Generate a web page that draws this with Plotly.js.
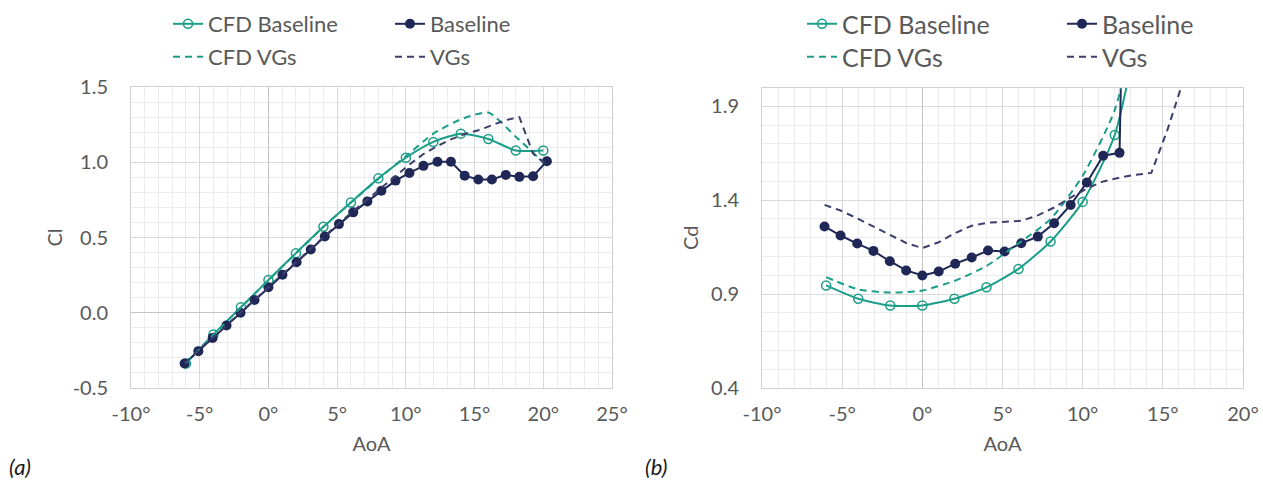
<!DOCTYPE html>
<html><head><meta charset="utf-8">
<script src="https://cdn.plot.ly/plotly-3.0.1.min.js"></script>
<style>html,body{margin:0;padding:0;background:#fff}#chart{width:1263px;height:482px}</style>
</head><body><div id="chart"></div><script>
// ---------- Panel (a): Cl vs AoA ----------
const cfdAoA = [-6, -4, -2, 0, 2, 4, 6, 8, 10, 12, 14, 16, 18, 20];
const cfdBaselineCl = [-0.337, -0.144, 0.036, 0.218, 0.396, 0.571, 0.733, 0.893, 1.03, 1.135, 1.19, 1.155, 1.078, 1.078];
const cfdVGsCl = [-0.335, -0.145, 0.035, 0.216, 0.394, 0.57, 0.732, 0.89, 1.04, 1.19, 1.285, 1.33, 1.17, 1.0];

const expAoA = [-6.1, -5.1, -4.06, -3.05, -2.03, -1.01, 0, 1.02, 2.05, 3.08, 4.1, 5.13, 6.17, 7.2, 8.22, 9.25, 10.26, 11.28, 12.3, 13.28, 14.28, 15.27, 16.26, 17.27, 18.26, 19.26, 20.26];
const baselineCl = [-0.337, -0.255, -0.167, -0.084, 0.0, 0.085, 0.169, 0.253, 0.336, 0.42, 0.507, 0.589, 0.667, 0.74, 0.811, 0.878, 0.929, 0.976, 1.003, 1.003, 0.911, 0.885, 0.885, 0.916, 0.903, 0.907, 1.007];
const vgsCl = [-0.335, -0.252, -0.165, -0.08, 0.005, 0.09, 0.175, 0.257, 0.342, 0.425, 0.51, 0.595, 0.675, 0.752, 0.83, 0.91, 0.985, 1.055, 1.108, 1.152, 1.188, 1.212, 1.245, 1.28, 1.30, 1.057, 0.98];

// ---------- Panel (b): Cd vs AoA ----------
const cfdAoACd = [-6, -4, -2, 0, 2, 4, 6, 8, 10, 12, 14];
const cfdBaselineCd = [0.946, 0.875, 0.839, 0.839, 0.875, 0.936, 1.034, 1.18, 1.391, 1.747, 2.55];
const cfdVGsCd = [0.99, 0.925, 0.908, 0.919, 0.97, 1.05, 1.17, 1.3, 1.53, 1.88, 2.6];

const expAoACd = [-6.1, -5.1, -4.06, -3.05, -2.03, -1.01, 0, 1.02, 2.05, 3.08, 4.1, 5.13, 6.17, 7.2, 8.22, 9.25, 10.26, 11.28, 12.3, 13.28];
const baselineCd = [1.26, 1.212, 1.169, 1.13, 1.075, 1.026, 0.999, 1.02, 1.062, 1.095, 1.132, 1.127, 1.171, 1.206, 1.277, 1.375, 1.494, 1.637, 1.652, 6.0];
const expAoAVGsCd = [-6.1, -5.1, -4.06, -3.05, -2.03, -1.01, 0, 1.02, 2.05, 3.08, 4.1, 5.13, 6.17, 7.2, 8.22, 9.25, 10.26, 11.28, 12.3, 13.28, 14.28, 15.27, 16.26, 17.27];
const vgsCd = [1.375, 1.345, 1.303, 1.26, 1.215, 1.172, 1.145, 1.176, 1.225, 1.264, 1.28, 1.284, 1.29, 1.319, 1.361, 1.414, 1.462, 1.5, 1.52, 1.535, 1.545, 1.77, 2.02, 2.3];

// ---------- Tick labels ----------
const xTickValsA = [-10, -5, 0, 5, 10, 15, 20, 25];
const xTickTextA = ['-10°', '-5°', '0°', '5°', '10°', '15°', '20°', '25°'];
const yTickValsA = [-0.5, 0, 0.5, 1.0, 1.5];
const yTickTextA = ['-0.5', '0.0', '0.5', '1.0', '1.5'];
const xTickValsB = [-10, -5, 0, 5, 10, 15, 20];
const xTickTextB = ['-10°', '-5°', '0°', '5°', '10°', '15°', '20°'];
const yTickValsB = [0.4, 0.9, 1.4, 1.9];
const yTickTextB = ['0.4', '0.9', '1.4', '1.9'];

const TEAL = '#1b9e89';
const NAVY = '#1f2756';
const NAVY_D = '#3c3f6c';
const GREY = '#595959';
const FONT = 'Lato, "Open Sans", sans-serif';

function cfdBase(x, y, xa, ya, lg) {
  return {x, y, xaxis: xa, yaxis: ya, legend: lg, name: 'CFD Baseline', type: 'scatter', mode: 'lines+markers',
    line: {color: TEAL, width: 2, shape: 'spline', smoothing: 0.6},
    marker: {symbol: 'circle-open', size: 9, color: TEAL, line: {width: 1.5}}, cliponaxis: true};
}
function expBase(x, y, xa, ya, lg) {
  return {x, y, xaxis: xa, yaxis: ya, legend: lg, name: 'Baseline', type: 'scatter', mode: 'lines+markers',
    line: {color: NAVY, width: 2},
    marker: {symbol: 'circle', size: 10, color: NAVY}, cliponaxis: true};
}
function cfdVG(x, y, xa, ya, lg) {
  return {x, y, xaxis: xa, yaxis: ya, legend: lg, name: 'CFD VGs', type: 'scatter', mode: 'lines',
    line: {color: TEAL, width: 2, dash: '7px,5px', shape: 'spline', smoothing: 0.6}};
}
function expVG(x, y, xa, ya, lg) {
  return {x, y, xaxis: xa, yaxis: ya, legend: lg, name: 'VGs', type: 'scatter', mode: 'lines',
    line: {color: NAVY_D, width: 2, dash: '7px,5px'}};
}

const data = [
  cfdBase(cfdAoA, cfdBaselineCl, 'x', 'y', 'legend'),
  expBase(expAoA, baselineCl, 'x', 'y', 'legend'),
  cfdVG(cfdAoA, cfdVGsCl, 'x', 'y', 'legend2'),
  expVG(expAoA, vgsCl, 'x', 'y', 'legend2'),
  cfdBase(cfdAoACd, cfdBaselineCd, 'x2', 'y2', 'legend3'),
  expBase(expAoACd, baselineCd, 'x2', 'y2', 'legend3'),
  cfdVG(cfdAoACd, cfdVGsCd, 'x2', 'y2', 'legend4'),
  expVG(expAoAVGsCd, vgsCd, 'x2', 'y2', 'legend4')
];

const W = 1263, H = 482;
const px = v => v / W;
const py = v => 1 - v / H;

const tickFont = {family: FONT, size: 20, color: GREY};
const titleFont = {family: FONT, size: 20, color: GREY};
const gridMinor = '#ececec';
const gridMajor = '#d9d9d9';

function xAxis(domain, range, vals, text, minorStart) {
  return {domain, range, tickmode: 'array', tickvals: vals, ticktext: text, showgrid: true, gridcolor: gridMajor, gridwidth: 1,
    minor: {dtick: 1, tick0: minorStart, showgrid: true, gridcolor: gridMinor, gridwidth: 1},
    zeroline: true, zerolinecolor: '#c4c4c4', zerolinewidth: 1,
    showline: true, linecolor: '#d0d0d0', linewidth: 1, mirror: true,
    ticks: '', tickfont: tickFont, ticklabelstandoff: 8, fixedrange: true, automargin: false,
    title: {text: 'AoA', font: titleFont, standoff: 12}};
}
function yAxis(domain, range, vals, text, minorStart, title, anchor, standoff) {
  return {domain, range, anchor, tickmode: 'array', tickvals: vals, ticktext: text, showgrid: true, gridcolor: gridMajor, gridwidth: 1,
    minor: {dtick: 0.1, tick0: minorStart, showgrid: true, gridcolor: gridMinor, gridwidth: 1},
    zeroline: true, zerolinecolor: '#c4c4c4', zerolinewidth: 1,
    showline: true, linecolor: '#d0d0d0', linewidth: 1, mirror: true,
    ticks: '', tickfont: tickFont, ticklabelstandoff: 18, fixedrange: true, automargin: false,
    title: {text: title, font: titleFont, standoff}};
}

const legendBase = {orientation: 'h', bgcolor: 'rgba(0,0,0,0)', borderwidth: 0, xanchor: 'left', yanchor: 'middle',
  itemwidth: 30, tracegroupgap: 0, itemclick: false, itemdoubleclick: false};

const layout = {
  width: W, height: H, margin: {l: 0, r: 0, t: 0, b: 0, autoexpand: false},
  paper_bgcolor: '#fff', plot_bgcolor: '#fff',
  font: {family: FONT, color: GREY},
  xaxis: xAxis([px(131), px(612)], [-10, 25], xTickValsA, xTickTextA, -10),
  yaxis: yAxis([py(388), py(87)], [-0.5, 1.5], yTickValsA, yTickTextA, -0.5, 'Cl', 'x', 4),
  xaxis2: Object.assign(xAxis([px(762), px(1243)], [-10, 20], xTickValsB, xTickTextB, -10), {anchor: 'y2'}),
  yaxis2: yAxis([py(388), py(87.5)], [0.4, 2.0], yTickValsB, yTickTextB, 0.4, 'Cd', 'x2', 7),
  legend: Object.assign({}, legendBase, {x: px(168), y: py(24), entrywidth: 177, font: {family: FONT, size: 22, color: GREY}}),
  legend2: Object.assign({}, legendBase, {x: px(168), y: py(57), entrywidth: 177, font: {family: FONT, size: 22, color: GREY}}),
  legend3: Object.assign({}, legendBase, {x: px(802), y: py(24), entrywidth: 215, font: {family: FONT, size: 25, color: GREY}}),
  legend4: Object.assign({}, legendBase, {x: px(802), y: py(57), entrywidth: 215, font: {family: FONT, size: 25, color: GREY}}),
  showlegend: true,
  annotations: [
    {text: '(a)', x: px(7), y: py(466), xref: 'paper', yref: 'paper', xanchor: 'left', yanchor: 'middle', showarrow: false,
      font: {family: FONT, size: 22, color: '#1a1a1a', style: 'italic'}},
    {text: '(b)', x: px(643), y: py(466), xref: 'paper', yref: 'paper', xanchor: 'left', yanchor: 'middle', showarrow: false,
      font: {family: FONT, size: 22, color: '#1a1a1a', style: 'italic'}}
  ]
};

Plotly.newPlot('chart', data, layout, {displayModeBar: false, staticPlot: true});
</script></body></html>
